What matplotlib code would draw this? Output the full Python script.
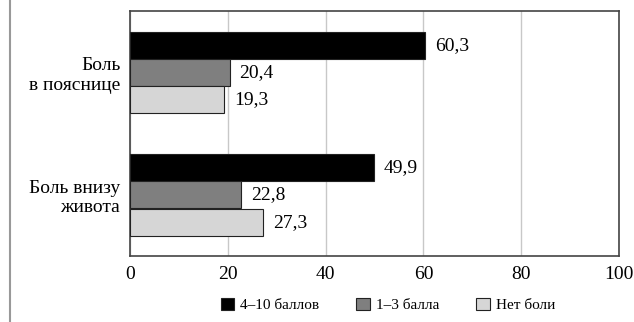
import matplotlib.pyplot as plt
from matplotlib.patches import Patch
from matplotlib.lines import Line2D

plt.rcParams['font.family'] = 'serif'
plt.rcParams['font.serif'] = ['Liberation Serif', 'DejaVu Serif']

kategorien = ["Боль\nв пояснице", "Боль внизу\nживота"]
serien = ["4–10 баллов", "1–3 балла", "Нет боли"]
werte = [
    [60.3, 49.9],
    [20.4, 22.8],
    [19.3, 27.3],
]
farben = ["#000000", "#7f7f7f", "#d6d6d6"]
xticks = [0, 20, 40, 60, 80, 100]

fig = plt.figure(figsize=(6.34, 3.22), dpi=100)
ax = fig.add_axes([130 / 634, 1 - 256 / 322, 489 / 634, 245 / 322])

hoehe = 0.22
versatz = [-0.22, 0.0, 0.225]
for i, name in enumerate(serien):
    for j, wert in enumerate(werte[i]):
        y = j + versatz[i]
        ax.barh(y, wert, height=hoehe, color=farben[i],
                edgecolor="#222222", linewidth=0.8, zorder=3)
        ax.text(wert + 2, y, f"{wert:.1f}".replace(".", ","),
                va="center", ha="left", fontsize=14)

ax.set_xlim(0, 100)
ax.set_ylim(1.5, -0.5)
ax.set_xticks(xticks)
ax.set_xticklabels([str(t) for t in xticks], fontsize=14)
ax.set_yticks(range(len(kategorien)))
ax.set_yticklabels(kategorien, fontsize=14, multialignment="right")
ax.tick_params(length=0, pad=7)
ax.grid(axis="x", color="#c8c8c8", linewidth=1, zorder=0)
for s in ax.spines.values():
    s.set_color("#444444")
    s.set_linewidth(1.2)

# linke Randlinie
fig.add_artist(Line2D([10 / 634, 10 / 634], [0, 1], color="#999999", linewidth=1.5))

griffe = [Patch(facecolor=farben[i], edgecolor="#222222", linewidth=0.8)
          for i in range(3)]
fig.legend(griffe, serien, loc="center", bbox_to_anchor=(388 / 634, 1 - 305 / 322),
           ncol=3, frameon=False, fontsize=11, handlelength=0.9, handleheight=0.9,
           handletextpad=0.4, columnspacing=2.4)

fig.savefig("out.png", dpi=100)
